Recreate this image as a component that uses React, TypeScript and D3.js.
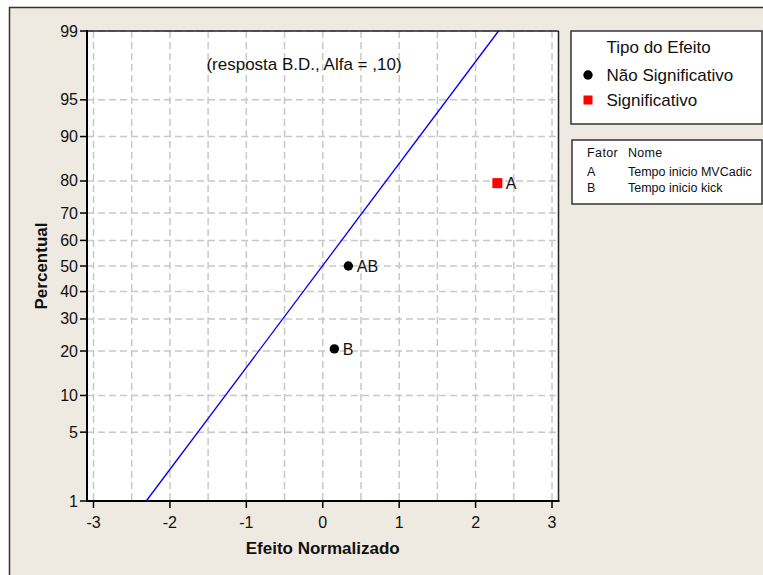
import React from "react";
import * as d3 from "d3";

// ---- data ----
const effectLabels = ["B", "AB", "A"];
const effectValues = [0.152, 0.335, 2.285];
const effectPercents = [20.6, 50, 79.4];
const effectSignificant = [false, false, true];

const fitEffects = [-2.31, 2.3];
const fitPercents = [1, 99];

const xTicks = [-3, -2, -1, 0, 1, 2, 3];
const xGridValues = [-3, -2.5, -2, -1.5, -1, -0.5, 0, 0.5, 1, 1.5, 2, 2.5, 3];
const yTicks = [1, 5, 10, 20, 30, 40, 50, 60, 70, 80, 90, 95, 99];

const titleText = "(resposta B.D., Alfa = ,10)";
const xTitle = "Efeito Normalizado";
const yTitle = "Percentual";
const legendTitle = "Tipo do Efeito";
const legendItems = ["Não Significativo", "Significativo"];
const factorCodes = ["A", "B"];
const factorNames = ["Tempo inicio MVCadic", "Tempo inicio kick"];

// inverse standard normal CDF (Acklam)
function invNorm(p: number): number {
  const a = [-3.969683028665376e1, 2.209460984245205e2, -2.759285104469687e2, 1.38357751867269e2, -3.066479806614716e1, 2.506628277459239];
  const b = [-5.447609879822406e1, 1.615858368580409e2, -1.556989798598866e2, 6.680131188771972e1, -1.328068155288572e1];
  const c = [-7.784894002430293e-3, -3.223964580411365e-1, -2.400758277161838, -2.549732539343734, 4.374664141464968, 2.938163982698783];
  const d = [7.784695709041462e-3, 3.224671290700398e-1, 2.445134137142996, 3.754408661907416];
  const pl = 0.02425;
  if (p < pl) {
    const q = Math.sqrt(-2 * Math.log(p));
    return (((((c[0] * q + c[1]) * q + c[2]) * q + c[3]) * q + c[4]) * q + c[5]) / ((((d[0] * q + d[1]) * q + d[2]) * q + d[3]) * q + 1);
  }
  if (p > 1 - pl) {
    const q = Math.sqrt(-2 * Math.log(1 - p));
    return -(((((c[0] * q + c[1]) * q + c[2]) * q + c[3]) * q + c[4]) * q + c[5]) / ((((d[0] * q + d[1]) * q + d[2]) * q + d[3]) * q + 1);
  }
  const q = p - 0.5;
  const r = q * q;
  return ((((((a[0] * r + a[1]) * r + a[2]) * r + a[3]) * r + a[4]) * r + a[5]) * q) / (((((b[0] * r + b[1]) * r + b[2]) * r + b[3]) * r + b[4]) * r + 1);
}

const W = 763;
const H = 575;
const FONT = "'Liberation Sans', Arial, sans-serif";
const BG = "#EEEAE1";

export default function App() {
  const left = 87, right = 558.5, top = 31, bottom = 501;
  const x = d3.scaleLinear().domain([-3.085, 3.085]).range([left, right]);
  const zScale = d3.scaleLinear().domain([invNorm(0.01), invNorm(0.99)]).range([bottom, top]);
  const y = (p: number) => zScale(invNorm(p / 100));

  const fitData = fitEffects.map((e, i) => [e, fitPercents[i]] as [number, number]);
  const line = d3.line<[number, number]>().x((d) => x(d[0])).y((d) => y(d[1]));

  return (
    <svg width={W} height={H} style={{ position: "absolute", left: 0, top: 0, fontFamily: FONT }}>
      <rect x={0} y={0} width={W} height={H} fill="#fff" />
      <rect x={9.5} y={7.5} width={W + 20} height={H + 20} fill={BG} stroke="#333" strokeWidth={1.5} />

      {/* plot area */}
      <rect x={left} y={top} width={right - left} height={bottom - top} fill="#fff" />
      {/* grid */}
      {xGridValues.map((v) => (
        <line key={"xg" + v} x1={x(v)} x2={x(v)} y1={top} y2={bottom} stroke="#C8C8C8" strokeWidth={1.5} strokeDasharray="7,4" />
      ))}
      {yTicks.map((v) => (
        <line key={"yg" + v} x1={left} x2={right} y1={y(v)} y2={y(v)} stroke="#C8C8C8" strokeWidth={1.5} strokeDasharray="7,4" />
      ))}
      {/* frame */}
      <line x1={left} x2={right} y1={top} y2={top} stroke="#222" strokeWidth={1.5} />
      <line x1={right} x2={right} y1={top} y2={bottom} stroke="#222" strokeWidth={1.5} />
      <line x1={left} x2={left} y1={top - 1} y2={bottom + 1} stroke="#000" strokeWidth={2} />
      <line x1={left - 1} x2={right + 1} y1={bottom} y2={bottom} stroke="#000" strokeWidth={2} />

      {/* ticks */}
      {yTicks.map((v) => (
        <g key={"yt" + v}>
          <line x1={left - 7} x2={left} y1={y(v)} y2={y(v)} stroke="#000" strokeWidth={1.5} />
          <text x={left - 9} y={y(v) + 5.5} textAnchor="end" fontSize={16} fill="#111">{v}</text>
        </g>
      ))}
      {xTicks.map((v) => (
        <g key={"xt" + v}>
          <line x1={x(v)} x2={x(v)} y1={bottom} y2={bottom + 7} stroke="#000" strokeWidth={1.5} />
          <text x={x(v)} y={528} textAnchor="middle" fontSize={16} fill="#111">{v}</text>
        </g>
      ))}

      {/* axis titles */}
      <text x={(left + right) / 2} y={554} textAnchor="middle" fontSize={17} fontWeight="bold" fill="#111">{xTitle}</text>
      <text transform={`translate(47, ${(top + bottom) / 2}) rotate(-90)`} textAnchor="middle" fontSize={17} fontWeight="bold" fill="#111">{yTitle}</text>

      {/* annotation */}
      <text x={304} y={70} textAnchor="middle" fontSize={17} fill="#111">{titleText}</text>

      {/* fit line */}
      <path d={line(fitData) || ""} fill="none" stroke="#0000FF" strokeWidth={1.3} />

      {/* points */}
      {effectValues.map((v, i) => {
        const cx = x(v), cy = y(effectPercents[i]);
        return (
          <g key={"p" + i}>
            {effectSignificant[i] ? (
              <rect x={cx - 5} y={cy - 5} width={10} height={10} fill="#FF0000" />
            ) : (
              <circle cx={cx} cy={cy} r={4.7} fill="#000" />
            )}
            <text x={cx + 8.5} y={cy + 6} fontSize={16} fill="#111">{effectLabels[i]}</text>
          </g>
        );
      })}

      {/* legend 1 */}
      <rect x={571} y={31} width={191} height={93} fill="#fff" stroke="#333" strokeWidth={1.5} />
      <text x={606.5} y={53} fontSize={17} fill="#111">{legendTitle}</text>
      <circle cx={588} cy={75} r={4.7} fill="#000" />
      <text x={606.5} y={81} fontSize={17} fill="#111">{legendItems[0]}</text>
      <rect x={583.5} y={95.5} width={9} height={9} fill="#FF0000" />
      <text x={606.5} y={105.5} fontSize={17} fill="#111">{legendItems[1]}</text>

      {/* legend 2 */}
      <rect x={572} y={140} width={190} height={64} fill="#fff" stroke="#333" strokeWidth={1.5} />
      <text x={587} y={157} fontSize={12.5} fill="#111" letterSpacing={0.4}>Fator</text>
      <text x={628} y={157} fontSize={12.5} fill="#111" letterSpacing={0.3}>Nome</text>
      {factorCodes.map((c, i) => (
        <g key={"f" + c}>
          <text x={587} y={175.5 + i * 16.5} fontSize={12.5} fill="#111">{c}</text>
          <text x={628} y={175.5 + i * 16.5} fontSize={12.5} fill="#111">{factorNames[i]}</text>
        </g>
      ))}
    </svg>
  );
}
